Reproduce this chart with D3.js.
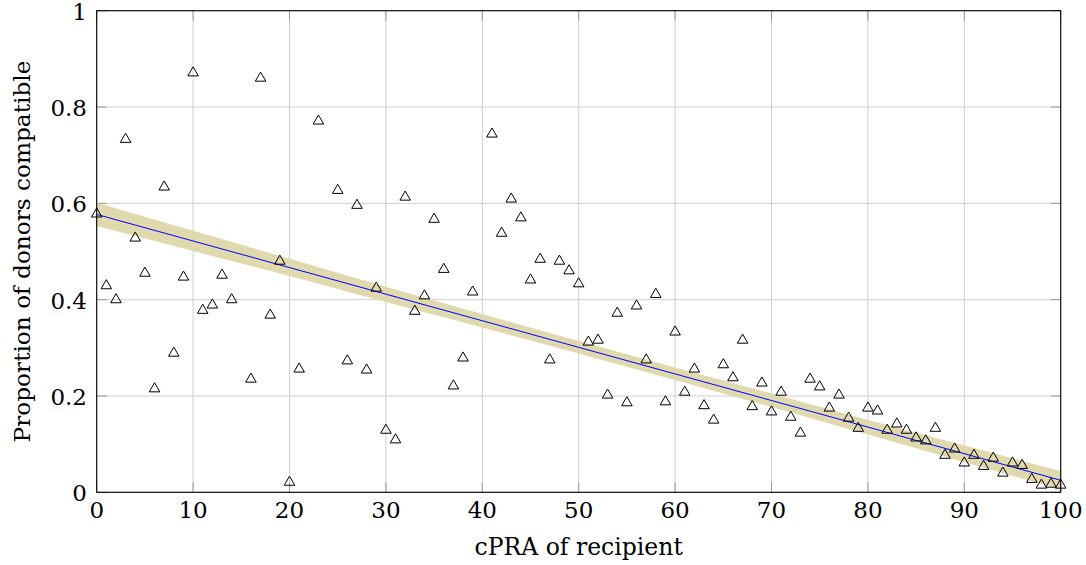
<!DOCTYPE html>
<html>
<head>
<meta charset="utf-8">
<script src="https://cdn.jsdelivr.net/npm/d3@7"></script>
<style>
  html, body { margin: 0; padding: 0; background: #fff; }
  svg { display: block; }
</style>
</head>
<body>
<svg id="chart" width="1086" height="565"></svg>
<script>
// ---- data ----
const cpra = [0,1,2,3,4,5,6,7,8,9,10,11,12,13,14,16,17,18,19,20,21,23,25,26,27,28,29,30,31,32,33,34,35,36,37,38,39,41,42,43,44,45,46,47,48,49,50,51,52,53,54,55,56,57,58,59,60,61,62,63,64,65,66,67,68,69,70,71,72,73,74,75,76,77,78,79,80,81,82,83,84,85,86,87,88,89,90,91,92,93,94,95,96,97,98,99,100];
const proportion = [0.580,0.431,0.402,0.735,0.530,0.457,0.217,0.636,0.291,0.449,0.873,0.380,0.391,0.453,0.402,0.237,0.862,0.370,0.482,0.023,0.258,0.773,0.629,0.275,0.598,0.256,0.426,0.131,0.111,0.615,0.378,0.410,0.569,0.465,0.223,0.281,0.418,0.746,0.540,0.611,0.572,0.443,0.486,0.277,0.482,0.462,0.435,0.314,0.318,0.204,0.374,0.188,0.389,0.277,0.413,0.190,0.335,0.210,0.258,0.182,0.152,0.267,0.240,0.318,0.180,0.229,0.169,0.210,0.158,0.125,0.237,0.221,0.177,0.204,0.156,0.135,0.177,0.171,0.131,0.144,0.131,0.115,0.109,0.135,0.079,0.092,0.063,0.079,0.056,0.073,0.042,0.063,0.058,0.029,0.017,0.019,0.017];

const fitX = [0, 100];
const fitY = [0.577, 0.025];

const bandX    = [0, 10, 20, 30, 40, 50, 60, 70, 80, 90, 100];
const bandLow  = [0.553, 0.501, 0.449, 0.395, 0.342, 0.288, 0.233, 0.177, 0.120, 0.063, 0.006];
const bandHigh = [0.601, 0.543, 0.485, 0.427, 0.370, 0.314, 0.259, 0.205, 0.150, 0.097, 0.044];

const xTicks = [0,10,20,30,40,50,60,70,80,90,100];
const yTicks = [0,0.2,0.4,0.6,0.8,1];
const yTickLabels = ["0","0.2","0.4","0.6","0.8","1"];

const xLabel = "cPRA of recipient";
const yLabel = "Proportion of donors compatible";

// ---- drawing ----
const FONT = "'DejaVu Serif', 'Liberation Serif', serif";
const svg = d3.select("#chart");
const pL = 96.7, pR = 1060.7, pT = 10.7, pB = 492.3;
const x = d3.scaleLinear().domain([0, 100]).range([pL, pR]);
const y = d3.scaleLinear().domain([0, 1]).range([pB, pT]);

// grid
const grid = svg.append("g");
grid.selectAll("line.gx").data(xTicks).join("line")
  .attr("x1", d => x(d)).attr("x2", d => x(d))
  .attr("y1", pT).attr("y2", pB)
  .attr("stroke", "#cfcfcf").attr("stroke-width", 1);
grid.selectAll("line.gy").data(yTicks).join("line")
  .attr("x1", pL).attr("x2", pR)
  .attr("y1", d => y(d)).attr("y2", d => y(d))
  .attr("stroke", "#cfcfcf").attr("stroke-width", 1);

// ticks (inside, both sides)
const tl = 10;
const ticks = svg.append("g").attr("stroke", "#9a9a9a").attr("stroke-width", 1);
xTicks.forEach(t => {
  ticks.append("line").attr("x1", x(t)).attr("x2", x(t)).attr("y1", pB).attr("y2", pB - tl);
  ticks.append("line").attr("x1", x(t)).attr("x2", x(t)).attr("y1", pT).attr("y2", pT + tl);
});
yTicks.forEach(t => {
  ticks.append("line").attr("x1", pL).attr("x2", pL + tl).attr("y1", y(t)).attr("y2", y(t));
  ticks.append("line").attr("x1", pR).attr("x2", pR - tl).attr("y1", y(t)).attr("y2", y(t));
});

// confidence band
const bandData = bandX.map((v, i) => ({x: v, lo: bandLow[i], hi: bandHigh[i]}));
const area = d3.area().x(d => x(d.x)).y0(d => y(d.lo)).y1(d => y(d.hi)).curve(d3.curveMonotoneX);
svg.append("path").datum(bandData).attr("d", area)
  .attr("fill", "#e0d9ae").attr("stroke", "none");

// fit line
const fitData = fitX.map((v, i) => ({x: v, y: fitY[i]}));
svg.append("path").datum(fitData)
  .attr("d", d3.line().x(d => x(d.x)).y(d => y(d.y)))
  .attr("fill", "none").attr("stroke", "#0000ff").attr("stroke-width", 1);

// frame
svg.append("rect").attr("x", pL).attr("y", pT)
  .attr("width", pR - pL).attr("height", pB - pT)
  .attr("fill", "none").attr("stroke", "#000").attr("stroke-width", 1.1);

// markers
const tri = d3.symbol().type(d3.symbolTriangle).size(48);
svg.append("g").selectAll("path").data(cpra.map((c, i) => ({x: c, y: proportion[i]}))).join("path")
  .attr("d", tri)
  .attr("transform", d => `translate(${x(d.x)},${y(d.y) + 1})`)
  .attr("fill", "none").attr("stroke", "#000").attr("stroke-width", 1);

// tick labels
svg.append("g").selectAll("text").data(xTicks).join("text")
  .attr("font-family", FONT)
  .attr("x", d => x(d)).attr("y", 518)
  .attr("text-anchor", "middle").attr("font-size", 23)
  .text(d => d);
svg.append("g").selectAll("text").data(yTicks).join("text")
  .attr("font-family", FONT)
  .attr("x", 87).attr("y", d => y(d) + 9)
  .attr("text-anchor", "end").attr("font-size", 23)
  .text((d, i) => yTickLabels[i]);

// axis labels
svg.append("text").attr("font-family", FONT).attr("x", (pL + pR) / 2).attr("y", 555)
  .attr("text-anchor", "middle").attr("font-size", 23.5).text(xLabel);
svg.append("text").attr("font-family", FONT)
  .attr("transform", `translate(30,${(pT + pB) / 2}) rotate(-90)`)
  .attr("text-anchor", "middle").attr("font-size", 23.2).text(yLabel);
</script>
</body>
</html>
